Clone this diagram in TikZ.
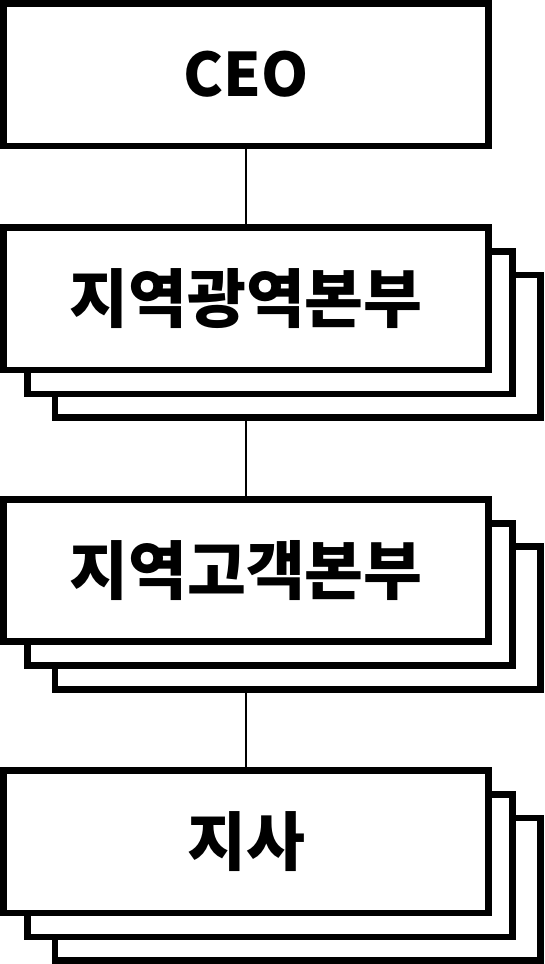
\documentclass[tikz,border=0pt]{standalone}
\usepackage{fontspec}
\setmainfont{Noto Sans CJK KR}
\usetikzlibrary{positioning}
\usetikzlibrary{shadows}
\usetikzlibrary{backgrounds}
\tikzset{
        orgbox/.style={align=center, rectangle, draw=black, fill=white, line width=6.7pt, outer sep=3.35pt,
          minimum width=485.3pt, minimum height=142.6pt, inner sep=0pt,
          font=\fontsize{60pt}{72pt}\selectfont\bfseries},
        % Stacked boxes (two copies behind)
        orgstack/.style={orgbox, font=\fontsize{64pt}{76pt}\selectfont\bfseries,
          copy shadow={shadow xshift=51.5pt, shadow yshift=-47.5pt, line width=6.7pt},
          copy shadow={shadow xshift=24pt, shadow yshift=-24pt, line width=6.7pt}},
        % Connector
        link/.style={line width=2pt, black}
}
\begin{document}
\begin{tikzpicture}
    \useasboundingbox (0,0) rectangle (544pt,-964pt);
    \node[orgbox] (ceo) at (246pt,-74.65pt) {CEO};
    \node[orgstack, below=74.7pt of ceo] (region) {지역광역본부};
    \node[orgstack, below=122.5pt of region] (customer) {지역고객본부};
    \node[orgstack, below=122pt of customer] (branch) {지사};
    \begin{scope}[on background layer]
        \draw[link] (ceo) -- (region);
        \draw[link] (region) -- (customer);
        \draw[link] (customer) -- (branch);
    \end{scope}
\end{tikzpicture}
\end{document}
